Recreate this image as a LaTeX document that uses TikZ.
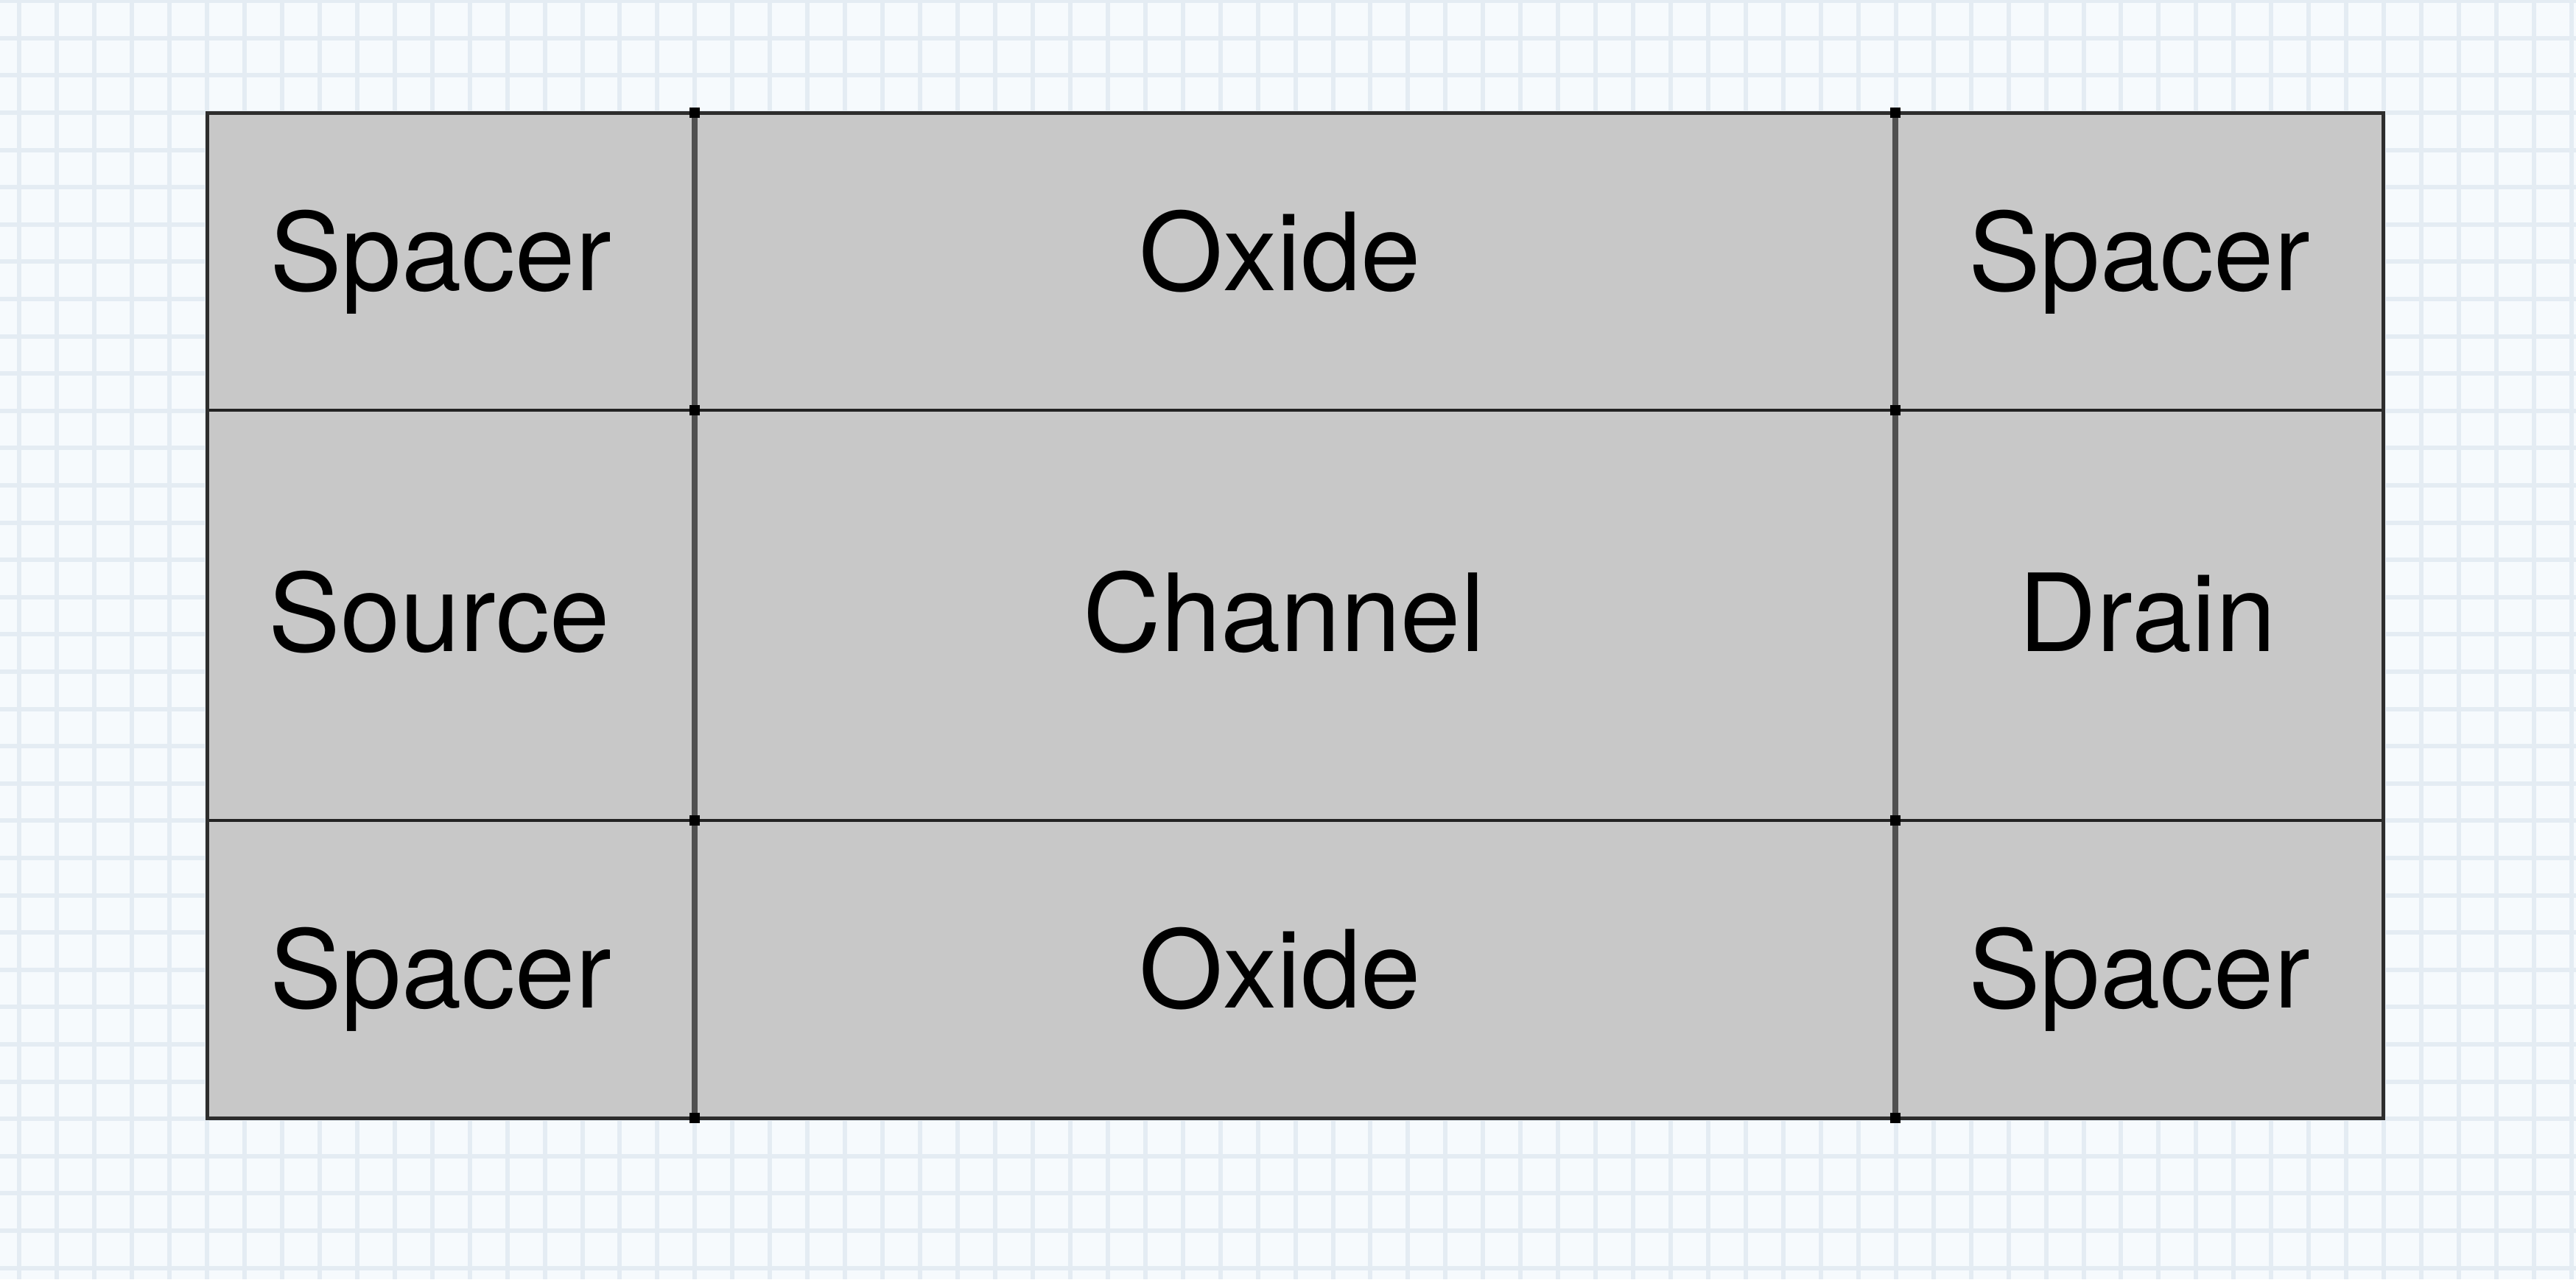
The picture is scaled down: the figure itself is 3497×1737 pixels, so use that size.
\documentclass[tikz,border=0pt]{standalone}
\usepackage{fontspec}
\setmainfont{TeX Gyre Heros}
\definecolor{bgc}{RGB}{246,250,253}
\definecolor{gridc}{RGB}{228,236,243}
\definecolor{cellfill}{RGB}{200,200,200}
\definecolor{edgec}{RGB}{45,45,45}
\definecolor{vlinec}{RGB}{80,80,80}
\definecolor{hlinec}{RGB}{35,35,35}
\begin{document}
\begin{tikzpicture}[x=0.25pt,y=-0.25pt,
  lbl/.style={anchor=base,inner sep=0pt,text=black,font=\fontsize{36.6pt}{44pt}\selectfont},
  gridline/.style={gridc,line width=1.5pt},
  hline/.style={hlinec,line width=1.2pt},
  vline/.style={vlinec,line width=1.8pt},
  outer/.style={edgec,line width=1.25pt},
  jdot/.style={fill=black,draw=none,minimum size=3.5pt,inner sep=0pt,rectangle}]
\fill[bgc] (0,0) rectangle (3497,1737);
\useasboundingbox (0,0) rectangle (3497,1737);
\foreach \k in {-5,...,63} \draw[gridline] ({281+50.95*\k},0) -- ({281+50.95*\k},1737);
\foreach \k in {-3,...,31} \draw[gridline] (0,{153+50.6*\k}) -- (3497,{153+50.6*\k});
% corners
\coordinate (A) at (281,153);
\coordinate (B) at (3235,1518);
\coordinate (h1l) at (281,557);
\coordinate (h1r) at (3235,557);
\coordinate (h2l) at (281,1114);
\coordinate (h2r) at (3235,1114);
\fill[cellfill] (A) rectangle (B);
\draw[hline] (h1l) -- (h1r);
\draw[hline] (h2l) -- (h2r);
\draw[vline] (943,153) coordinate (v1t) -- (943,1518) coordinate (v1b);
\draw[vline] (2573,153) coordinate (v2t) -- (2573,1518) coordinate (v2b);
\draw[outer] (A) rectangle (B);
% junction dots
\foreach \x/\n in {943/a,2573/b}
  \foreach \y/\m in {153/1,557/2,1114/3,1518/4}
    \node[jdot] (j\n\m) at (\x,\y) {};
% labels
\node[lbl] (spTL) at (598,394) {Spacer};
\node[lbl] (oxT) at (1738,394) {Oxide};
\node[lbl] (spTR) at (2904,394) {Spacer};
\node[lbl] (src) at (596,884) {Source};
\node[lbl] (ch) at (1743,884) {Channel};
\node[lbl] (dr) at (2915,884) {Drain};
\node[lbl] (spBL) at (598,1368) {Spacer};
\node[lbl] (oxB) at (1738,1368) {Oxide};
\node[lbl] (spBR) at (2904,1368) {Spacer};
\end{tikzpicture}
\end{document}
